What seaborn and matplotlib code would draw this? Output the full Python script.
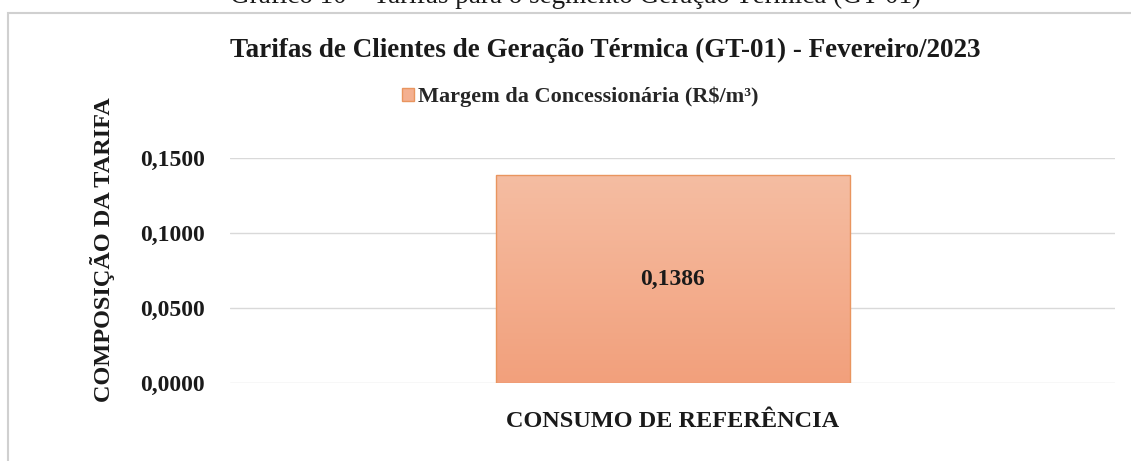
import numpy as np
import matplotlib
matplotlib.use('Agg')
import matplotlib.pyplot as plt
import matplotlib.patches as mpatches
from matplotlib.colors import LinearSegmentedColormap
import seaborn as sns

# Chart data
categories = ['CONSUMO DE REFERÊNCIA']
values = [0.1386]
series_name = 'Margem da Concessionária (R$/m³)'
y_ticks = [0.0, 0.05, 0.10, 0.15]

sns.set_theme(style='white')
plt.rcParams['font.family'] = ['Liberation Serif', 'DejaVu Serif']
plt.rcParams['font.weight'] = 'bold'

fig = plt.figure(figsize=(11.31, 4.61), dpi=100)
ax = fig.add_axes([0.2034, 0.1692, 0.7826, 0.4881])

sns.barplot(x=categories, y=values, color='#F3A985', width=0.4,
            edgecolor='#E9955F', linewidth=1.0, ax=ax)

# gradient fill inside each bar
grad = LinearSegmentedColormap.from_list('g', ['#F2A07C', '#F5BDA2'])
for p in ax.patches:
    x0, y0 = p.get_x(), p.get_y()
    im = ax.imshow(np.linspace(0, 1, 100).reshape(-1, 1), cmap=grad, origin='lower',
                   extent=[x0, x0 + p.get_width(), y0, y0 + p.get_height()],
                   aspect='auto', zorder=p.get_zorder() - 0.1)
    im.set_clip_path(p)
    p.set_facecolor('none')

ax.set_xlim(-0.5, 0.5)
ax.set_ylim(0, 0.15)
ax.set_yticks(y_ticks)
ax.set_yticklabels([f'{v:.4f}'.replace('.', ',') for v in y_ticks],
                   fontsize=17, fontweight='bold', color='#1a1a1a')
ax.tick_params(axis='y', length=0, pad=18)
ax.tick_params(axis='x', length=0, pad=20, labelsize=17.5, labelcolor='#1a1a1a')
for lab in ax.get_xticklabels():
    lab.set_fontweight('bold')
ax.yaxis.grid(True, color='#D9D9D9', linewidth=1.0)
ax.set_axisbelow(True)
for s in ax.spines.values():
    s.set_visible(False)

ax.bar_label(ax.containers[0], labels=[f'{v:.4f}'.replace('.', ',') for v in values],
             label_type='center', fontsize=17, fontweight='bold', color='#1a1a1a')

ax.set_xlabel('')
ax.set_ylabel('')
fig.text(0.091, 0.458, 'COMPOSIÇÃO DA TARIFA', rotation=90, ha='center', va='center',
         fontsize=17.5, fontweight='bold', color='#1a1a1a')

fig.text(0.535, 0.89, 'Tarifas de Clientes de Geração Térmica (GT-01) - Fevereiro/2023',
         ha='center', va='center', fontsize=19.5, fontweight='bold', color='#1a1a1a')

handle = mpatches.Patch(facecolor='#F4B090', edgecolor='#E9955F', label=series_name)
fig.legend(handles=[handle], loc='center', bbox_to_anchor=(0.513, 0.79), frameon=False,
           handlelength=0.55, handleheight=0.55, handletextpad=0.15,
           prop={'family': 'Liberation Serif', 'weight': 'bold', 'size': 16})

# caption partly cut off at the top
fig.text(0.509, 1 - 9 / 461, 'Gráfico 10 – Tarifas para o segmento Geração Térmica (GT-01)',
         ha='center', va='bottom', fontsize=19.5, fontweight='normal', color='#1a1a1a')

# outer chart border
fig.patches.append(mpatches.Rectangle((8 / 1131, -0.01), 1.0, 1 - 13 / 461 + 0.01,
                                      transform=fig.transFigure, fill=False,
                                      edgecolor='#D0D0D0', linewidth=1.5))

fig.savefig('out.png', dpi=100)
